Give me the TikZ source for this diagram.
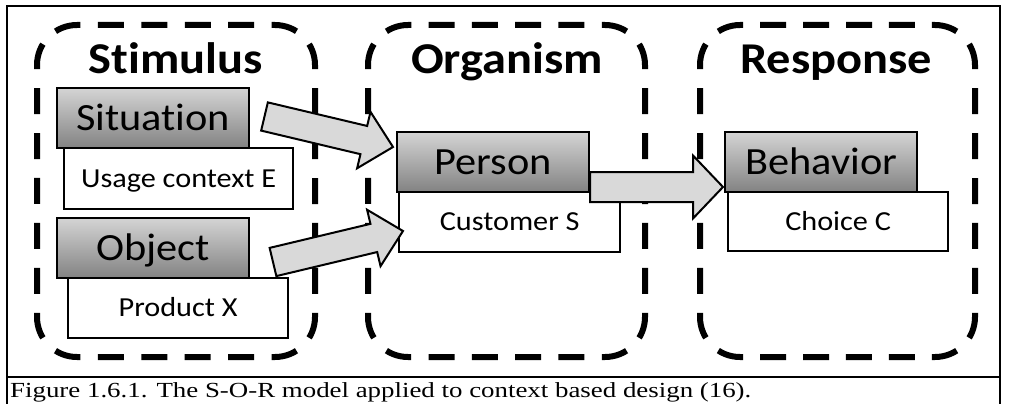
\documentclass[tikz,border=0pt]{standalone}
\usepackage{fontspec}
\setmainfont{Carlito}[FakeStretch=1.1, Ligatures=NoCommon]
\newfontfamily\capfont{Liberation Serif}[FakeStretch=1.25]
\usetikzlibrary{calc}
\definecolor{gtop}{HTML}{D4D4D4}
\definecolor{gbot}{HTML}{828282}
\definecolor{arrowfill}{HTML}{D9D9D9}
\tikzset{
  panelline/.style={draw=black, line width=6pt},
  heading/.style={anchor=base, inner sep=0pt, font=\fontsize{44}{46}\selectfont\bfseries},
  darkbox/.style={draw=black, line width=2.3pt, top color=gtop, bottom color=gbot,
    anchor=north west, inner sep=0pt, font=\fontsize{38.5}{40}\selectfont,
    text height=24.3pt, text depth=0pt},
  lightbox/.style={draw=black, line width=2.3pt, fill=white,
    anchor=north west, inner sep=0pt, font=\fontsize{27.5}{30}\selectfont,
    text height=17.4pt, text depth=0pt},
  blockarrow/.style={draw=black, line width=2pt, fill=arrowfill, line join=miter},
  frameline/.style={draw=black, line width=1.5pt},
}
\newcommand\blockarr[6]{%
  \coordinate (#6h) at ($(#2)!#5!(#1)$);
  \draw[blockarrow] ($(#1)!#3!90:(#2)$) -- ($(#6h)!#3!90:(#2)$) -- ($(#6h)!#4!90:(#2)$)
    -- (#2) -- ($(#6h)!#4!-90:(#2)$) -- ($(#6h)!#3!-90:(#2)$) -- ($(#1)!#3!-90:(#2)$) -- cycle;
}
% dashed rounded panel: left, top, right, bottom (image pixels, y down), radius 40
\newcommand\dashpanel[4]{%
  \pgfmathsetmacro\pw{(62.832+#3-#1-80)/6}%
  \pgfmathsetmacro\ph{(62.832+#4-#2-80)/7}%
  \pgfmathsetmacro\gw{\pw-26}%
  \pgfmathsetmacro\gh{\ph-26}%
  \pgfmathsetmacro\phw{26+\gw/2}%
  \pgfmathsetmacro\phh{26+\gh/2}%
  \draw[panelline, dash pattern=on 26pt off \gw pt, dash phase=\phw pt]
    (#1+11.716,#2+11.716) arc[start angle=135,end angle=90,radius=40pt]
    -- (#3-40,#2) arc[start angle=90,end angle=45,radius=40pt];
  \draw[panelline, dash pattern=on 26pt off \gh pt, dash phase=\phh pt]
    (#3-11.716,#2+11.716) arc[start angle=45,end angle=0,radius=40pt]
    -- (#3,#4-40) arc[start angle=0,end angle=-45,radius=40pt];
  \draw[panelline, dash pattern=on 26pt off \gw pt, dash phase=\phw pt]
    (#3-11.716,#4-11.716) arc[start angle=-45,end angle=-90,radius=40pt]
    -- (#1+40,#4) arc[start angle=-90,end angle=-135,radius=40pt];
  \draw[panelline, dash pattern=on 26pt off \gh pt, dash phase=\phh pt]
    (#1+11.716,#4-11.716) arc[start angle=-135,end angle=-180,radius=40pt]
    -- (#1,#2+40) arc[start angle=180,end angle=135,radius=40pt];
}
\begin{document}
\begin{tikzpicture}[x=1pt, y=-1pt]
\useasboundingbox (0,0) rectangle (1009,404);
\fill[white] (0,0) rectangle (1009,404);
% frame and caption
\draw[frameline] (7,6) rectangle (1000,377);
\draw[frameline] (7,377) -- (7,404);
\draw[frameline] (1000,377) -- (1000,404);
\node[anchor=base west, inner sep=0pt, font=\capfont\fontsize{21.5}{23}\selectfont] (caption) at (10,397.5)
  {Figure 1.6.1. The S-O-R model applied to context based design (16).};
% panels
\dashpanel{37}{25}{315}{357}
\dashpanel{368}{25}{645}{357}
\dashpanel{700}{25}{975}{357}
\node[heading] (hs) at (176,74) {Stimulus};
\node[heading] (ho) at (507,74) {Organism};
\node[heading] (hr) at (836,74) {Response};
% boxes
\node[darkbox, minimum width=192pt, minimum height=60pt] (sit) at (56,87) {Situation};
\node[lightbox, minimum width=229pt, minimum height=61pt] (use) at (63,147) {Usage context E};
\node[darkbox, minimum width=192pt, minimum height=60pt] (obj) at (56,217) {Object};
\node[lightbox, minimum width=220pt, minimum height=60pt] (prod) at (67,277) {Product X};
\node[darkbox, minimum width=192pt, minimum height=60pt] (per) at (396,131) {Person};
\node[lightbox, minimum width=221pt, minimum height=60pt] (cust) at (398,191) {Customer S};
\node[darkbox, minimum width=192pt, minimum height=60pt] (beh) at (724,131) {Behavior};
\node[lightbox, minimum width=220pt, minimum height=59pt] (cho) at (727,191) {Choice C};
% arrows
\coordinate (a1s) at (264.5,116.5);
\coordinate (a1e) at (393,147);
\coordinate (a2s) at (273,262);
\coordinate (a2e) at (403,231);
\coordinate (a3s) at (590,187);
\coordinate (a3e) at (723,187);
\blockarr{a1s}{a1e}{14.5pt}{29pt}{30pt}{ba1}
\blockarr{a2s}{a2e}{14.5pt}{29pt}{30pt}{ba2}
\blockarr{a3s}{a3e}{15pt}{31.5pt}{30pt}{ba3}
\end{tikzpicture}
\end{document}
